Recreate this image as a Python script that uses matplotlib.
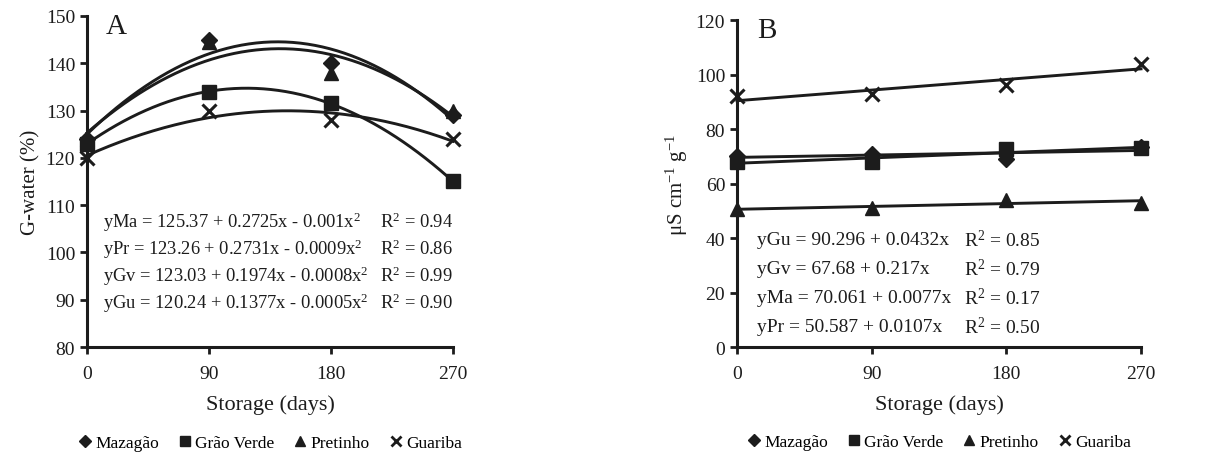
import numpy as np
import matplotlib
matplotlib.use("Agg")
import matplotlib.pyplot as plt
from matplotlib.lines import Line2D

plt.rcParams['font.family'] = ['Liberation Serif', 'DejaVu Serif']
plt.rcParams['mathtext.fontset'] = 'custom'
plt.rcParams['mathtext.rm'] = 'Liberation Serif'
plt.rcParams['mathtext.it'] = 'Liberation Serif:italic'

DAYS = [0, 90, 180, 270]
CULTIVARS = ["Mazagão", "Grão Verde", "Pretinho", "Guariba"]
MARKERS = {"Mazagão": "D", "Grão Verde": "s", "Pretinho": "^", "Guariba": "x"}
MSIZE = {"Mazagão": 8.5, "Grão Verde": 10, "Pretinho": 10, "Guariba": 10}

# panel A: G-water (%)
water_ma = [124, 145, 140, 129]
water_gv = [123, 134, 131.5, 115]
water_pr = [124, 144.5, 138, 130]
water_gu = [120, 130, 128, 124]

# panel B: electrical conductivity (uS cm-1 g-1)
cond_ma = [70, 71, 69, 73.5]
cond_gv = [68, 68, 72.5, 73]
cond_pr = [50.5, 51, 54, 53]
cond_gu = [92, 93, 96, 104]

EQ_A = ["yMa = 125.37 + 0.2725x - 0.001x$^2$",
        "yPr = 123.26 + 0.2731x - 0.0009x$^2$",
        "yGv = 123.03 + 0.1974x - 0.0008x$^2$",
        "yGu = 120.24 + 0.1377x - 0.0005x$^2$"]
R2_A = ["0.94", "0.86", "0.99", "0.90"]
EQ_B = ["yGu = 90.296 + 0.0432x",
        "yGv = 67.68 + 0.217x",
        "yMa = 70.061 + 0.0077x",
        "yPr = 50.587 + 0.0107x"]
R2_B = ["0.85", "0.79", "0.17", "0.50"]

INK = "#1c1c1c"
FS = 14


def draw_panel(ax, series, degree, ylim, yticks, letter, ylabel,
               eqs, r2s, eq_x, r2_x, eq_y, eq_fs):
    xs = np.linspace(0, 270, 200)
    for name, vals in series.items():
        # trend line fitted the same way as the original spreadsheet
        coef = np.polyfit(DAYS, vals, degree)
        ax.plot(xs, np.polyval(coef, xs), color=INK, lw=2.1, clip_on=False)
        mew = 2.2 if name == "Guariba" else 1
        ax.plot(DAYS, vals, linestyle="none", marker=MARKERS[name],
                ms=MSIZE[name], color=INK, mew=mew, clip_on=False, zorder=4)

    ax.set_xlim(0, 270)
    ax.set_ylim(*ylim)
    ax.set_xticks(DAYS)
    ax.set_yticks(yticks)
    for s in ["top", "right"]:
        ax.spines[s].set_visible(False)
    for s in ["left", "bottom"]:
        ax.spines[s].set_linewidth(2.2)
        ax.spines[s].set_color(INK)
    ax.tick_params(width=2, length=5, color=INK, labelsize=FS,
                   labelcolor=INK)
    ax.tick_params(axis="x", pad=8)
    ax.set_xlabel("Storage (days)", fontsize=FS + 2, color=INK, labelpad=9)
    ax.set_ylabel(ylabel, fontsize=FS + 1, color=INK)
    ax.text(0.05, 1.01, letter, transform=ax.transAxes, fontsize=21,
            va="top", color=INK)

    for eq, r2, y in zip(eqs, r2s, eq_y):
        ax.text(eq_x, y, eq, fontsize=eq_fs, va="center", color=INK)
        ax.text(r2_x, y, "R$^2$ = " + r2, fontsize=eq_fs, va="center",
                color=INK)

    handles = [Line2D([], [], linestyle="none", marker=MARKERS[n],
                      ms=MSIZE[n] * 0.75, color=INK,
                      mew=2 if n == "Guariba" else 1) for n in CULTIVARS]
    ax.legend(handles, CULTIVARS, loc="center",
              bbox_to_anchor=(0.5, -0.29), ncol=4, frameon=False,
              fontsize=12.5, handlelength=0.8, handletextpad=0.2,
              columnspacing=1.1)


fig = plt.figure(figsize=(12.05, 4.56), dpi=100)
ax1 = fig.add_axes([0.0722, 0.2368, 0.3037, 0.726])
ax2 = fig.add_axes([0.6116, 0.2368, 0.3353, 0.717])

draw_panel(ax1,
           {"Mazagão": water_ma, "Grão Verde": water_gv,
            "Pretinho": water_pr, "Guariba": water_gu},
           2, (80, 150), range(80, 151, 10), "A", "G-water (%)",
           EQ_A, R2_A, 12, 216, [106.6, 100.9, 95.2, 89.5], 13.3)
draw_panel(ax2,
           {"Mazagão": cond_ma, "Grão Verde": cond_gv,
            "Pretinho": cond_pr, "Guariba": cond_gu},
           1, (0, 120), range(0, 121, 20), "B", "μS cm$^{-1}$ g$^{-1}$",
           EQ_B, R2_B, 13.4, 152, [39.6, 29, 18.3, 7.7], 14)

fig.savefig("out.png", dpi=100)
